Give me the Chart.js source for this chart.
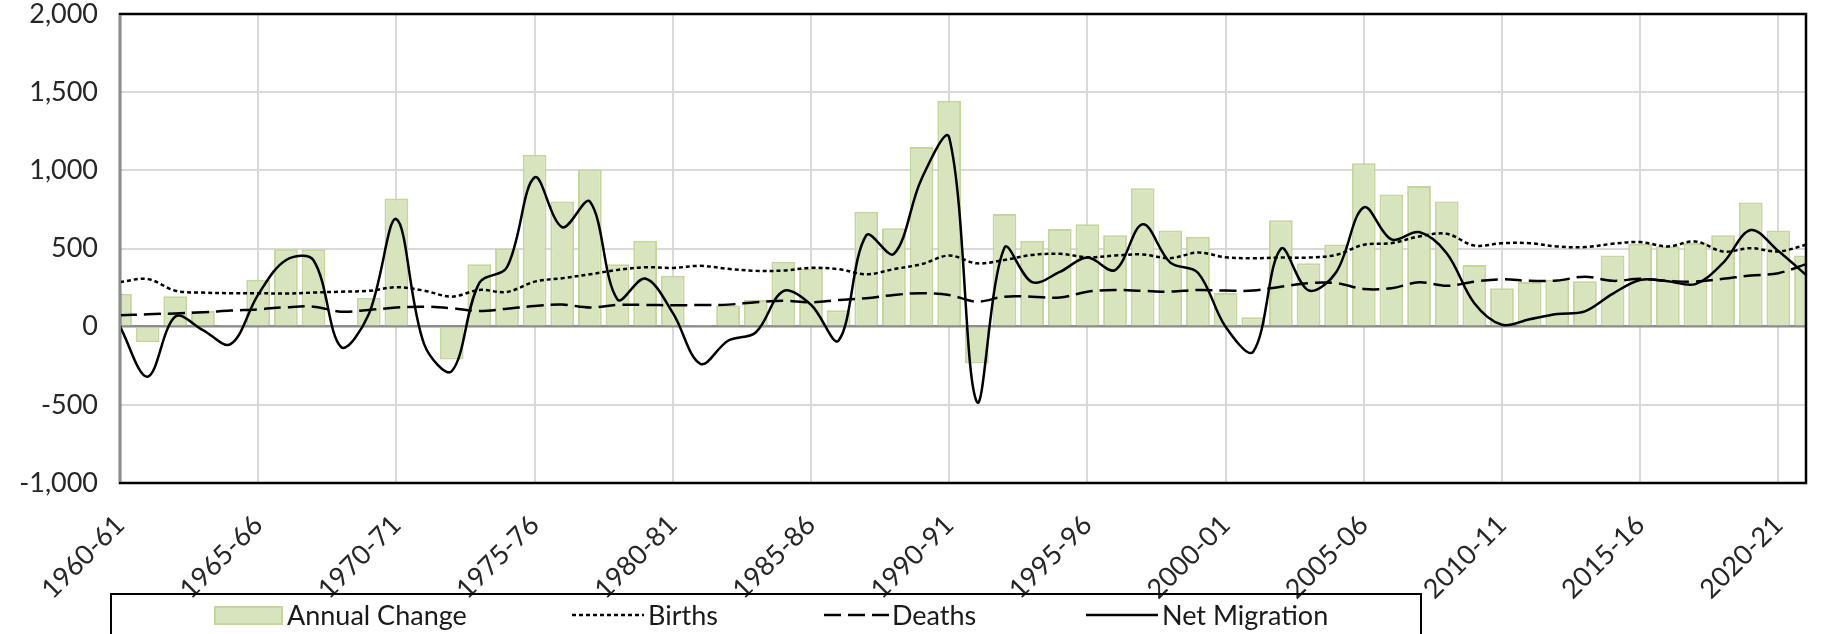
<!DOCTYPE html>
<html>
<head>
<meta charset="utf-8">
<script src="https://cdn.jsdelivr.net/npm/chart.js"></script>
<style>
    html, body { margin: 0; padding: 0; background: #fff; overflow: hidden; }
    #wrap { position: relative; width: 1825px; height: 634px; }
    #legend {
        position: absolute; left: 110px; top: 593px; width: 1312px; height: 60px;
        border: 2px solid #000; box-sizing: border-box;
        font-family: Lato, sans-serif; font-size: 27px; color: #1a1a1a;
    }
    #legend .item { position: absolute; top: 4px; line-height: 32px; white-space: nowrap; }
    #legend .swatch { position: absolute; top: 11px; width: 69px; height: 19px; box-sizing: border-box;
        background: #d7e4bd; border: 2px solid #c3d69b; }
    #legend svg { position: absolute; top: 10px; }
</style>
</head>
<body>
<div id="wrap">
    <canvas id="myChart" width="1825" height="634"></canvas>
    <div id="legend">
        <div class="swatch" style="left:102px"></div>
        <div class="item" style="left:175px">Annual Change</div>
        <svg style="left:460px" width="72" height="20"><line x1="0" y1="10" x2="72" y2="10" stroke="#000" stroke-width="2.5" stroke-dasharray="4 3"/></svg>
        <div class="item" style="left:536px">Births</div>
        <svg style="left:712px" width="66" height="20"><line x1="0" y1="10" x2="66" y2="10" stroke="#000" stroke-width="2.5" stroke-dasharray="17 7"/></svg>
        <div class="item" style="left:780px">Deaths</div>
        <svg style="left:974px" width="72" height="20"><line x1="0" y1="10" x2="72" y2="10" stroke="#000" stroke-width="2.5"/></svg>
        <div class="item" style="left:1050px">Net Migration</div>
    </div>
</div>
<script>
const labels = ['1960-61', '1961-62', '1962-63', '1963-64', '1964-65', '1965-66', '1966-67', '1967-68', '1968-69', '1969-70',
    '1970-71', '1971-72', '1972-73', '1973-74', '1974-75', '1975-76', '1976-77', '1977-78', '1978-79', '1979-80',
    '1980-81', '1981-82', '1982-83', '1983-84', '1984-85', '1985-86', '1986-87', '1987-88', '1988-89', '1989-90',
    '1990-91', '1991-92', '1992-93', '1993-94', '1994-95', '1995-96', '1996-97', '1997-98', '1998-99', '1999-00',
    '2000-01', '2001-02', '2002-03', '2003-04', '2004-05', '2005-06', '2006-07', '2007-08', '2008-09', '2009-10',
    '2010-11', '2011-12', '2012-13', '2013-14', '2014-15', '2015-16', '2016-17', '2017-18', '2018-19', '2019-20',
    '2020-21', '2021-22'];

const annualChange = [210, -100, 195, 100, 5, 300, 495, 495, 0, 185,
    820, 0, -210, 400, 500, 1100, 800, 1005, 400, 550,
    325, 10, 135, 170, 415, 370, 105, 735, 630, 1150,
    1445, -235, 720, 550, 625, 655, 585, 885, 615, 575,
    215, 60, 680, 405, 525, 1045, 845, 900, 800, 395,
    245, 285, 300, 290, 455, 530, 515, 535, 585, 795,
    615, 455];

const births = [285, 305, 230, 218, 214, 214, 212, 218, 224, 229,
    252, 231, 192, 235, 222, 288, 310, 335, 363, 380,
    376, 389, 370, 357, 359, 376, 368, 335, 368, 400,
    455, 405, 427, 459, 466, 444, 455, 462, 438, 474,
    444, 438, 442, 442, 459, 524, 534, 577, 594, 519,
    534, 534, 513, 509, 530, 541, 513, 545, 481, 502,
    481, 524];

const deaths = [73, 79, 85, 92, 103, 111, 124, 128, 96, 107,
    122, 128, 118, 100, 115, 132, 141, 122, 139, 139,
    137, 139, 141, 156, 165, 156, 171, 182, 203, 214,
    203, 160, 192, 192, 186, 224, 235, 229, 224, 235,
    231, 231, 256, 278, 278, 241, 246, 284, 261, 288,
    303, 293, 295, 320, 293, 306, 293, 288, 306, 327,
    342, 400];

const netMigration = [0, -320, 65, -22, -112, 205, 425, 425, -130, 80,
    688, -110, -285, 280, 380, 955, 636, 800, 174, 308,
    88, -238, -90, -37, 228, 140, -88, 585, 465, 945,
    1210, -480, 505, 285, 350, 442, 362, 655, 410, 345,
    0, -160, 498, 232, 348, 763, 558, 605, 470, 150,
    12, 48, 81, 98, 210, 299, 291, 272, 408, 618,
    484, 331];

const yMin = -1000;
const yMax = 2000;
const yStep = 500;

Chart.defaults.font.family = 'Lato, sans-serif';
Chart.defaults.font.size = 27;
Chart.defaults.color = '#262626';

// frame around the plot: black top/right/bottom, grey left axis
const frame = {
    id: 'frame',
    afterDraw(chart) {
        const a = chart.chartArea;
        const c = chart.ctx;
        c.save();
        c.strokeStyle = '#000';
        c.lineWidth = 2.5;
        c.strokeRect(a.left, a.top, a.right - a.left, a.bottom - a.top);
        c.strokeStyle = '#8c8c8c';
        c.lineWidth = 2;
        c.beginPath();
        c.moveTo(a.left, a.top + 1);
        c.lineTo(a.left, a.bottom - 1);
        c.stroke();
        c.restore();
    }
};

const ctx = document.getElementById('myChart').getContext('2d');
new Chart(ctx, {
    type: 'bar',
    data: {
        labels: labels,
        datasets: [{
            type: 'line',
            label: 'Births',
            data: births,
            borderColor: '#000',
            borderWidth: 2.5,
            borderDash: [4, 3],
            pointRadius: 0,
            tension: 0.35,
            order: 0
        }, {
            type: 'line',
            label: 'Deaths',
            data: deaths,
            borderColor: '#000',
            borderWidth: 2.5,
            borderDash: [17, 7],
            pointRadius: 0,
            tension: 0.35,
            order: 0
        }, {
            type: 'line',
            label: 'Net Migration',
            data: netMigration,
            borderColor: '#000',
            borderWidth: 2.5,
            pointRadius: 0,
            tension: 0.35,
            order: 0
        }, {
            label: 'Annual Change',
            data: annualChange,
            backgroundColor: '#d7e4bd',
            borderColor: '#c3d69b',
            borderWidth: 2,
            barPercentage: 0.86,
            categoryPercentage: 1,
            clip: 0,
            order: 1
        }]
    },
    options: {
        responsive: false,
        animation: false,
        devicePixelRatio: 1,
        layout: { padding: { top: 14, right: 19, left: 0, bottom: 0 } },
        plugins: {
            legend: { display: false },
            tooltip: { enabled: false }
        },
        scales: {
            x: {
                offset: false,
                grid: {
                    offset: false,
                    drawTicks: false,
                    lineWidth: 2,
                    color: (c) => (c.index % 5 === 0 ? '#d9d9d9' : 'rgba(0,0,0,0)')
                },
                border: { display: false },
                ticks: {
                    autoSkip: false,
                    minRotation: 45,
                    maxRotation: 45,
                    padding: 26,
                    callback: (v, i) => (i % 5 === 0 ? labels[i] : '')
                },
                afterFit: (s) => {
                    s.height = 151;
                    s.paddingLeft = 0;
                    s.paddingRight = 0;
                }
            },
            y: {
                min: yMin,
                max: yMax,
                grid: {
                    drawTicks: false,
                    lineWidth: (c) => (c.tick && c.tick.value === 0 ? 2.5 : 2),
                    color: (c) => (c.tick && c.tick.value === 0 ? '#8c8c8c' : '#d9d9d9')
                },
                border: { display: false },
                ticks: {
                    stepSize: yStep,
                    padding: 22,
                    callback: (v) => v.toLocaleString('en-US')
                },
                afterFit: (s) => {
                    s.width = 120;
                    s.paddingTop = 0;
                    s.paddingBottom = 0;
                }
            }
        }
    },
    plugins: [frame]
});
</script>
</body>
</html>
